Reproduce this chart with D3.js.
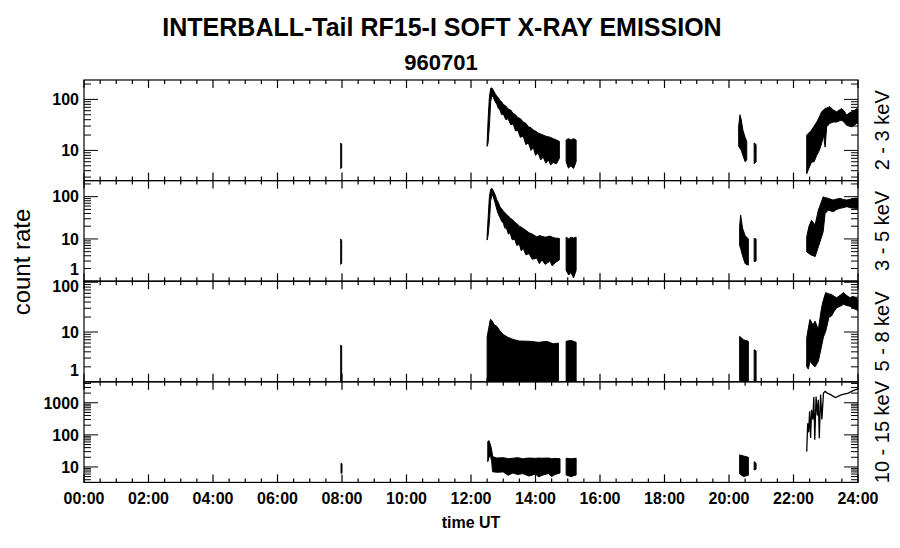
<!DOCTYPE html>
<html><head><meta charset="utf-8">
<script src="https://cdn.jsdelivr.net/npm/d3@7"></script>
<style>body{margin:0;background:#fff} svg{display:block}</style>
</head><body><svg id="c" width="900" height="548"></svg>
<script>
// ---------- DATA ----------
const title1 = "INTERBALL-Tail RF15-I SOFT X-RAY EMISSION";
const title2 = "960701";
const xLabel = "time UT";
const yLabel = "count rate";
const xTickHours = [0,2,4,6,8,10,12,14,16,18,20,22,24];
const xTickLabels = ["00:00","02:00","04:00","06:00","08:00","10:00","12:00","14:00","16:00","18:00","20:00","22:00","24:00"];
const bandNames = ["2 - 3 keV","3 - 5 keV","5 - 8 keV","10 - 15 keV"];
const yDomains = [[2.56,240],[1,240],[1,105],[3.3,4500]];
const yMajorTicks = [[10,100],[1,10,100],[1,10,100],[10,100,1000]];

// envelopes: [hour, low count, high count]
const b1_spike = [[7.96,4.4,14],[7.99,4.6,13]];
const b1_flare = [[12.50,12,14],[12.53,14,40],[12.57,30,110],[12.61,90,165],[12.65,120,168],[12.69,110,152],[12.75,90,130],[12.80,80,115],[12.85,66,108],[12.90,62,95],[12.95,50,90],[13.00,52,80],[13.08,40,74],[13.15,42,65],[13.23,32,62],[13.31,33,53],[13.38,24,50],[13.45,25,44],[13.53,18,42],[13.62,19,36],[13.70,13,34],[13.78,14,29],[13.86,10,28],[13.93,11.5,25],[14.00,8,24],[14.08,9,22],[14.16,6.5,21],[14.24,7.4,20],[14.32,5.6,19],[14.40,6.5,18.5],[14.47,5.2,18],[14.55,5.8,17],[14.65,5.5,16],[14.74,7,15]];
const b1_block = [[14.95,6,16],[15.02,4.5,17],[15.10,5,16],[15.18,4.4,17],[15.26,6,16]];
const b1_ev20 = [[20.30,12,30],[20.34,11,50],[20.38,10,40],[20.43,8,25],[20.50,6,18],[20.55,6.5,15]];
const b1_ev20b = [[20.78,5.5,14],[20.84,6,13]];
const b1_end = [[22.41,3.5,20],[22.48,4.5,22],[22.56,5.9,25],[22.64,6,30],[22.72,8,36],[22.80,10,45],[22.87,13.5,57],[22.93,20,62],[22.98,11.6,66],[23.03,29,68],[23.13,34,72],[23.23,36,62],[23.34,36,57],[23.42,38,62],[23.50,39,66],[23.58,35,58],[23.65,31,49],[23.72,30,54],[23.80,29,57],[23.88,31,60],[23.96,34,66],[24.0,33,62]];

const b2_spike = [[7.96,2.5,10],[7.99,2.7,9]];
const b2_flare = [[12.50,9.4,12],[12.53,12,30],[12.57,25,100],[12.61,80,150],[12.65,110,157],[12.69,100,140],[12.75,70,110],[12.80,50,85],[12.85,38,72],[12.90,32,57],[12.95,26,52],[13.00,24,46],[13.05,18,42],[13.10,18,38],[13.16,13,35],[13.21,14,31],[13.28,9.5,29],[13.35,10,25],[13.42,7,23],[13.50,7.5,20],[13.56,5.2,19],[13.62,6,17.7],[13.70,4.2,16],[13.80,4.5,14],[13.90,3.3,13],[14.04,3.5,11.2],[14.12,2.6,12],[14.20,3.2,11.5],[14.30,2.5,11],[14.45,3,11.7],[14.52,2.3,11],[14.60,2.7,10.5],[14.74,3.2,10.3]];
const b2_block = [[14.95,1.8,11],[15.03,1.4,10],[15.10,1.6,11],[15.18,1.2,10.5],[15.26,1.8,11]];
const b2_ev20 = [[20.33,7,20],[20.36,6,37],[20.42,4,18],[20.50,2.6,12],[20.60,2.4,10]];
const b2_ev20b = [[20.78,2.9,10.3],[20.84,3,10]];
const b2_end = [[22.41,4.9,11.2],[22.48,4.5,20],[22.56,4.1,27.8],[22.62,4,24],[22.67,3.8,21.3],[22.77,6.5,48],[22.85,10,70],[22.92,14.8,99],[22.98,40,95],[23.08,48,91],[23.23,44,83],[23.34,50,88],[23.44,53,91],[23.55,55,86],[23.65,58,83],[23.80,54,88],[23.90,53,92],[24.0,53,92]];

const b3_spike = [[7.96,0.8,5.5],[7.99,0.8,5.2]];
const b3_flare = [[12.50,0.8,8],[12.55,0.8,12],[12.60,0.8,17.9],[12.65,0.8,17],[12.72,0.8,14],[12.80,0.8,13],[12.90,0.8,10.5],[13.00,0.8,8.9],[13.15,0.8,7.8],[13.31,0.8,7.1],[13.50,0.8,6.6],[13.83,0.8,6.5],[14.10,0.8,6.2],[14.35,0.8,6.5],[14.55,0.8,5.8],[14.71,0.8,6]];
const b3_block = [[14.95,0.8,6.5],[15.10,0.8,6.8],[15.26,0.8,6.2]];
const b3_ev20 = [[20.33,0.8,8.2],[20.45,0.8,7],[20.60,0.8,6.5]];
const b3_ev20b = [[20.78,0.8,4.4],[20.84,0.8,4.2]];
const b3_end = [[22.41,2.0,7.6],[22.46,1.8,12],[22.51,2.6,17.9],[22.60,2.2,14],[22.67,2.0,16.5],[22.77,2.6,11.2],[22.87,5.2,30.7],[22.93,8,45],[23.00,10.4,62],[23.10,20,58],[23.18,21,57],[23.26,26,52],[23.34,30.7,49],[23.45,33,55],[23.55,36,62],[23.65,34,54],[23.75,33,49],[23.85,30,52],[23.95,28,48],[24.0,26.5,45]];

const b4_spike = [[7.97,6.3,13],[8.0,6.5,12.5]];
const b4_flare = [[12.52,14.6,62],[12.56,20,66],[12.60,23.7,50],[12.64,15,35],[12.67,7.1,21],[12.80,6.8,19],[13.00,7,19.5],[13.15,5.5,18],[13.30,6.5,18.7],[13.45,5.8,19.5],[13.60,6.2,18],[13.80,5.2,19],[14.00,6,18.5],[14.10,4.9,19],[14.20,5.5,18.7],[14.40,6.2,19],[14.50,5.0,18],[14.60,5.8,18.5],[14.76,6.5,18]];
const b4_block = [[14.95,5.6,18.7],[15.10,5.0,18],[15.26,5.6,18.7]];
const b4_ev20 = [[20.33,6,23.7],[20.45,5,22],[20.60,5.5,20]];
const b4_ev20b = [[20.78,8,14.6],[20.84,8.5,13]];
// single-valued trace: [hour, count]
const b4_end = [[22.41,30],[22.44,230],[22.47,120],[22.50,540],[22.53,80],[22.56,600],[22.60,300],[22.63,1500],[22.66,70],[22.70,1570],[22.74,400],[22.77,1240],[22.80,78],[22.84,1800],[22.88,300],[22.93,2000],[22.98,2260],[23.05,2000],[23.15,1800],[23.30,1460],[23.50,1800],[23.70,2000],[23.85,2400],[24.0,2700]];

const bandSegments = [
  [b1_spike,b1_flare,b1_block,b1_ev20,b1_ev20b,b1_end],
  [b2_spike,b2_flare,b2_block,b2_ev20,b2_ev20b,b2_end],
  [b3_spike,b3_flare,b3_block,b3_ev20,b3_ev20b,b3_end],
  [b4_spike,b4_flare,b4_block,b4_ev20,b4_ev20b]
];
const bandLines = [[],[],[],[b4_end]];

// ---------- LAYOUT ----------
const FONT = "'Liberation Sans', Arial, Helvetica, sans-serif";
const X0 = 84, X1 = 858, TOP = 80, PH = 100.6;
const svg = d3.select("#c");
svg.append("rect").attr("width",900).attr("height",548).attr("fill","#fff");
const x = d3.scaleLinear().domain([0,24]).range([X0,X1]);

svg.append("text").attr("x",442).attr("y",36).attr("text-anchor","middle")
  .attr("font-family",FONT).attr("font-weight","bold").attr("font-size",25).text(title1);
svg.append("text").attr("x",441).attr("y",70).attr("text-anchor","middle")
  .attr("font-family",FONT).attr("font-weight","bold").attr("font-size",22).text(title2);

bandNames.forEach((name,i)=>{
  const yt = TOP + i*PH, yb = yt + PH;
  const y = d3.scaleLog().domain(yDomains[i]).range([yb,yt]);
  const g = svg.append("g");
  const cid = "clip"+i;
  svg.append("clipPath").attr("id",cid).append("rect")
    .attr("x",X0).attr("y",yt).attr("width",X1-X0).attr("height",PH);
  const dg = g.append("g").attr("clip-path",`url(#${cid})`);
  const area = d3.area().x(d=>x(d[0])).y0(d=>y(d[1])).y1(d=>y(d[2]));
  bandSegments[i].forEach(seg=>{
    dg.append("path").attr("d",area(seg)).attr("fill","#000")
      .attr("stroke","#000").attr("stroke-width",1).attr("stroke-linejoin","round");
  });
  const line = d3.line().x(d=>x(d[0])).y(d=>y(d[1]));
  bandLines[i].forEach(seg=>{
    dg.append("path").attr("d",line(seg)).attr("fill","none")
      .attr("stroke","#000").attr("stroke-width",1.3);
  });
  // frame
  g.append("rect").attr("x",X0).attr("y",yt).attr("width",X1-X0).attr("height",PH)
    .attr("fill","none").attr("stroke","#000").attr("stroke-width",1.2);
  // x ticks (top & bottom, inward)
  const minorX = x.ticks(48);
  minorX.forEach(h=>{
    const major = xTickHours.includes(h);
    const L = major ? 8 : 4;
    g.append("line").attr("x1",x(h)).attr("x2",x(h)).attr("y1",yb).attr("y2",yb-L)
      .attr("stroke","#000").attr("stroke-width",1.2);
    g.append("line").attr("x1",x(h)).attr("x2",x(h)).attr("y1",yt).attr("y2",yt+L)
      .attr("stroke","#000").attr("stroke-width",1.2);
  });
  // y ticks
  const allY = y.ticks();
  allY.forEach(v=>{
    const major = yMajorTicks[i].includes(v);
    const L = major ? 14 : 7;
    const yy = y(v);
    if (yy < yt-0.5 || yy > yb+0.5) return;
    g.append("line").attr("x1",X0).attr("x2",X0+L).attr("y1",yy).attr("y2",yy)
      .attr("stroke","#000").attr("stroke-width",1);
    g.append("line").attr("x1",X1).attr("x2",X1-L).attr("y1",yy).attr("y2",yy)
      .attr("stroke","#000").attr("stroke-width",1);
  });
  yMajorTicks[i].forEach(v=>{
    let yy = y(v);
    if (Math.abs(yy-yb) < 2) yy -= 12;
    if (Math.abs(yy-yt) < 2) yy += 4;
    g.append("text").attr("x",79).attr("y",yy).attr("dy","0.36em")
      .attr("text-anchor","end").attr("font-family",FONT).attr("font-weight","bold")
      .attr("font-size",16).text(d3.format("d")(v));
  });
  // band label on right
  g.append("text").attr("transform",`translate(889,${(yt+yb)/2}) rotate(-90)`)
    .attr("text-anchor","middle").attr("font-family",FONT).attr("font-size",20).text(name);
  // x tick labels on bottom panel
  if (i === bandNames.length-1) {
    xTickHours.forEach((h,k)=>{
      g.append("text").attr("x",x(h)).attr("y",504).attr("text-anchor","middle")
        .attr("font-family",FONT).attr("font-weight","bold").attr("font-size",16).text(xTickLabels[k]);
    });
  }
});

svg.append("text").attr("x",471).attr("y",528).attr("text-anchor","middle")
  .attr("font-family",FONT).attr("font-weight","bold").attr("font-size",16).text(xLabel);
svg.append("text").attr("transform",`translate(30,262) rotate(-90)`)
  .attr("text-anchor","middle").attr("font-family",FONT).attr("font-size",24).text(yLabel);
</script></body></html>
